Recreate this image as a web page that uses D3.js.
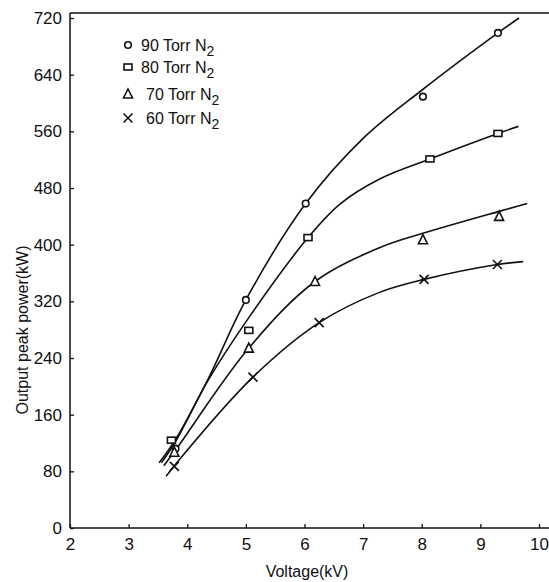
<!DOCTYPE html>
<html>
<head>
<meta charset="utf-8">
<script src="https://cdn.jsdelivr.net/npm/d3@7"></script>
<style>
  body { margin: 0; background: #fff; }
  text { font-family: "Liberation Sans", Arial, sans-serif; fill: #111; }
</style>
</head>
<body>
<svg id="chart" width="549" height="582"></svg>
<script>
// measured points (voltage kV, output peak power kW)
const volt90 = [3.8, 5.0, 6.02, 8.02, 9.3];
const power90 = [112, 322, 458, 609, 699];
const volt80 = [3.73, 5.05, 6.06, 8.14, 9.3];
const power80 = [124, 279, 410, 521, 557];
const volt70 = [3.78, 5.05, 6.18, 8.02, 9.32];
const power70 = [107, 254, 348, 407, 440];
const volt60 = [3.78, 5.12, 6.25, 8.04, 9.29];
const power60 = [87, 213, 290, 351, 372];

// hand drawn fit curves
const fitVolt90 = [3.52, 3.8, 4.36, 5.0, 6.02, 7.0, 8.0, 9.3, 9.66];
const fitPower90 = [92, 125, 211, 322, 458, 550, 618, 699, 720];
const fitVolt80 = [3.56, 3.8, 4.36, 5.05, 6.06, 6.6, 7.29, 8.14, 9.3, 9.65];
const fitPower80 = [92, 122, 209, 297, 410, 457, 493, 521, 557, 567];
const fitVolt70 = [3.6, 3.8, 5.05, 6.18, 7.29, 8.02, 9.32, 9.8];
const fitPower70 = [88, 110, 254, 348, 396, 416, 447, 458];
const fitVolt60 = [3.64, 3.78, 5.12, 6.25, 7.29, 8.04, 9.29, 9.73];
const fitPower60 = [73, 88, 213, 290, 333, 351, 372, 376];

const xTicks = [2, 3, 4, 5, 6, 7, 8, 9, 10];
const yTicks = [0, 80, 160, 240, 320, 400, 480, 560, 640, 720];
const legendLabels = ["90 Torr N", "80 Torr N", "70 Torr N", "60 Torr N"];
const symbols = ["circle", "square", "triangle", "cross"];

const svg = d3.select("#chart");

const x = d3.scaleLinear().domain([2, 10]).range([70, 539]);
const y = d3.scaleLinear().domain([0, 720]).range([528, 18]);

// frame: left, bottom, top
svg.append("line").attr("x1", 70).attr("x2", 70).attr("y1", 13).attr("y2", 528)
    .attr("stroke", "#111").attr("stroke-width", 1.5);
svg.append("line").attr("x1", 70).attr("x2", 549).attr("y1", 528).attr("y2", 528)
    .attr("stroke", "#111").attr("stroke-width", 1.5);
svg.append("line").attr("x1", 70).attr("x2", 549).attr("y1", 13).attr("y2", 13)
    .attr("stroke", "#111").attr("stroke-width", 1.5);

// axes with inward ticks
const xAxis = svg.append("g").attr("transform", "translate(0,528)")
    .call(d3.axisBottom(x).tickValues(xTicks).tickSize(-4).tickPadding(10));
const yAxis = svg.append("g").attr("transform", "translate(70,0)")
    .call(d3.axisLeft(y).tickValues(yTicks).tickSize(-4).tickPadding(8));

[xAxis, yAxis].forEach(a => {
    a.select(".domain").remove();
    a.selectAll("line").attr("stroke", "#111").attr("stroke-width", 1.3);
    a.selectAll("text").style("font-size", "17px").style("font-family", "Liberation Sans, Arial, sans-serif").attr("fill", "#111");
});

// axis labels
svg.append("text")
    .attr("x", 307).attr("y", 577)
    .attr("text-anchor", "middle")
    .style("font-size", "16px")
    .text("Voltage(kV)");

svg.append("text")
    .attr("transform", "rotate(-90)")
    .attr("x", -330).attr("y", 28)
    .attr("text-anchor", "middle")
    .style("font-size", "16px")
    .text("Output peak power(kW)");

// curves
const line = d3.line().x(d => x(d[0])).y(d => y(d[1])).curve(d3.curveCatmullRom.alpha(0.5));
const fits = [
    d3.zip(fitVolt90, fitPower90),
    d3.zip(fitVolt80, fitPower80),
    d3.zip(fitVolt70, fitPower70),
    d3.zip(fitVolt60, fitPower60)
];
svg.selectAll("path.fit").data(fits)
    .join("path")
    .attr("class", "fit")
    .attr("d", line)
    .attr("fill", "none")
    .attr("stroke", "#111")
    .attr("stroke-width", 1.6);

// marker drawing
function drawSymbol(g, type, cx, cy) {
    if (type === "circle") {
        g.append("circle").attr("cx", cx).attr("cy", cy).attr("r", 3.3)
            .attr("fill", "#fff").attr("stroke", "#111").attr("stroke-width", 1.6);
    } else if (type === "square") {
        g.append("rect").attr("x", cx - 4).attr("y", cy - 3).attr("width", 8).attr("height", 6)
            .attr("fill", "#fff").attr("stroke", "#111").attr("stroke-width", 1.6);
    } else if (type === "triangle") {
        g.append("path")
            .attr("d", `M${cx},${cy - 5}L${cx + 4.5},${cy + 4}L${cx - 4.5},${cy + 4}Z`)
            .attr("fill", "#fff").attr("stroke", "#111").attr("stroke-width", 1.6);
    } else {
        g.append("path")
            .attr("d", `M${cx - 4.5},${cy - 4.5}L${cx + 4.5},${cy + 4.5}M${cx + 4.5},${cy - 4.5}L${cx - 4.5},${cy + 4.5}`)
            .attr("stroke", "#111").attr("stroke-width", 1.6);
    }
}

const series = [
    d3.zip(volt90, power90),
    d3.zip(volt80, power80),
    d3.zip(volt70, power70),
    d3.zip(volt60, power60)
];
const marks = svg.append("g");
series.forEach((pts, i) => {
    pts.forEach(p => drawSymbol(marks, symbols[i], x(p[0]), y(p[1])));
});

// legend
const legendY = [46, 68, 95, 119];
const legend = svg.append("g");
legendLabels.forEach((lab, i) => {
    drawSymbol(legend, symbols[i], 128, legendY[i] - 1);
    const t = legend.append("text")
        .attr("x", i < 2 ? 141 : 146)
        .attr("y", legendY[i] + 5)
        .style("font-size", "16px");
    t.append("tspan").text(lab);
    t.append("tspan").attr("dy", 5).style("font-size", "14px").text("2");
});
</script>
</body>
</html>
